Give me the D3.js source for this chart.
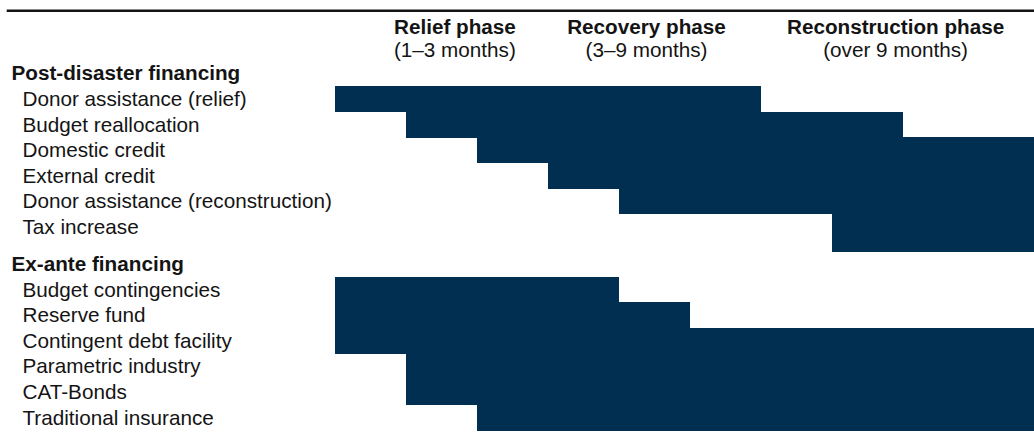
<!DOCTYPE html>
<html lang="en">
<head>
    <meta charset="UTF-8">
    <title>Disaster financing instruments by phase</title>
    <style>
        body, html {
            margin: 0;
            background-color: #fff;
        }
        svg text {
            font-family: "Liberation Sans", Arial, Helvetica, sans-serif;
            fill: #141414;
        }
    </style>
    <script src="https://d3js.org/d3.v7.min.js"></script>
</head>
<body>
    <div id="chart"></div>
    <script>
        // phases (column headers)
        const phases = ["Relief phase", "Recovery phase", "Reconstruction phase"];
        const phaseSpans = ["(1–3 months)", "(3–9 months)", "(over 9 months)"];

        // groups of instruments
        const groups = ["Post-disaster financing", "Ex-ante financing"];
        const postInstruments = ["Donor assistance (relief)", "Budget reallocation", "Domestic credit",
            "External credit", "Donor assistance (reconstruction)", "Tax increase"];
        const postStart = [0, 1, 2, 3, 4, 7];
        const postEnd = [6, 8, 10, 10, 10, 10];
        const exanteInstruments = ["Budget contingencies", "Reserve fund", "Contingent debt facility",
            "Parametric industry", "CAT-Bonds", "Traditional insurance"];
        const exanteStart = [0, 0, 0, 1, 1, 2];
        const exanteEnd = [4, 5, 10, 10, 10, 10];

        const width = 1034, height = 440;
        const fontSize = 20.7;
        const barColor = "#002f52";

        const svg = d3.select("#chart").append("svg")
            .attr("width", width)
            .attr("height", height);

        // time axis in "steps" (one step ~ 71px)
        const x = d3.scaleLinear().domain([0, 10]).range([335, 1044.6]);
        // row slots
        const y = d3.scaleLinear().domain([0, 1]).range([60.5, 86.1]);
        const groupSlot = [0, 7.45];

        // build rows
        const rows = [];
        [[postInstruments, postStart, postEnd], [exanteInstruments, exanteStart, exanteEnd]]
            .forEach(([names, starts, ends], g) => {
                names.forEach((name, i) => {
                    const slot = groupSlot[g] + 1 + i;
                    const last = i === names.length - 1;
                    const next = (last && g === 0) ? groupSlot[1] : slot + 1;
                    rows.push({ name, start: starts[i], end: ends[i], slot, next });
                });
            });

        // bars
        svg.append("g")
            .selectAll("rect")
            .data(rows)
            .enter().append("rect")
            .attr("x", d => x(d.start))
            .attr("y", d => y(d.slot))
            .attr("width", d => x(d.end) - x(d.start))
            .attr("height", d => y(d.next) - y(d.slot) + 0.3)
            .attr("fill", barColor)
            .attr("shape-rendering", "crispEdges");

        // top rule
        svg.append("line")
            .attr("x1", 6.7).attr("x2", width)
            .attr("y1", 10.8).attr("y2", 10.8)
            .attr("stroke", "#141414")
            .attr("stroke-width", 2.5);

        // phase headers
        const phaseCenter = [1.69, 4.39, 7.9];
        const header = svg.append("g");
        header.selectAll("text.phase")
            .data(phases)
            .enter().append("text")
            .attr("class", "phase")
            .attr("x", (d, i) => x(phaseCenter[i]))
            .attr("y", 34)
            .attr("text-anchor", "middle")
            .style("font-size", fontSize + "px")
            .style("font-weight", "bold")
            .text(d => d);
        header.selectAll("text.span")
            .data(phaseSpans)
            .enter().append("text")
            .attr("class", "span")
            .attr("x", (d, i) => x(phaseCenter[i]))
            .attr("y", 56.5)
            .attr("text-anchor", "middle")
            .style("font-size", fontSize + "px")
            .text(d => d);

        // group labels
        svg.append("g")
            .selectAll("text")
            .data(groups)
            .enter().append("text")
            .attr("x", 11.5)
            .attr("y", (d, i) => y(groupSlot[i] + 0.5) + 7)
            .style("font-size", fontSize + "px")
            .style("font-weight", "bold")
            .text(d => d);

        // row labels
        svg.append("g")
            .selectAll("text")
            .data(rows)
            .enter().append("text")
            .attr("x", 22.5)
            .attr("y", d => y(d.slot + 0.5) + 7)
            .style("font-size", fontSize + "px")
            .text(d => d.name);
    </script>
</body>
</html>
